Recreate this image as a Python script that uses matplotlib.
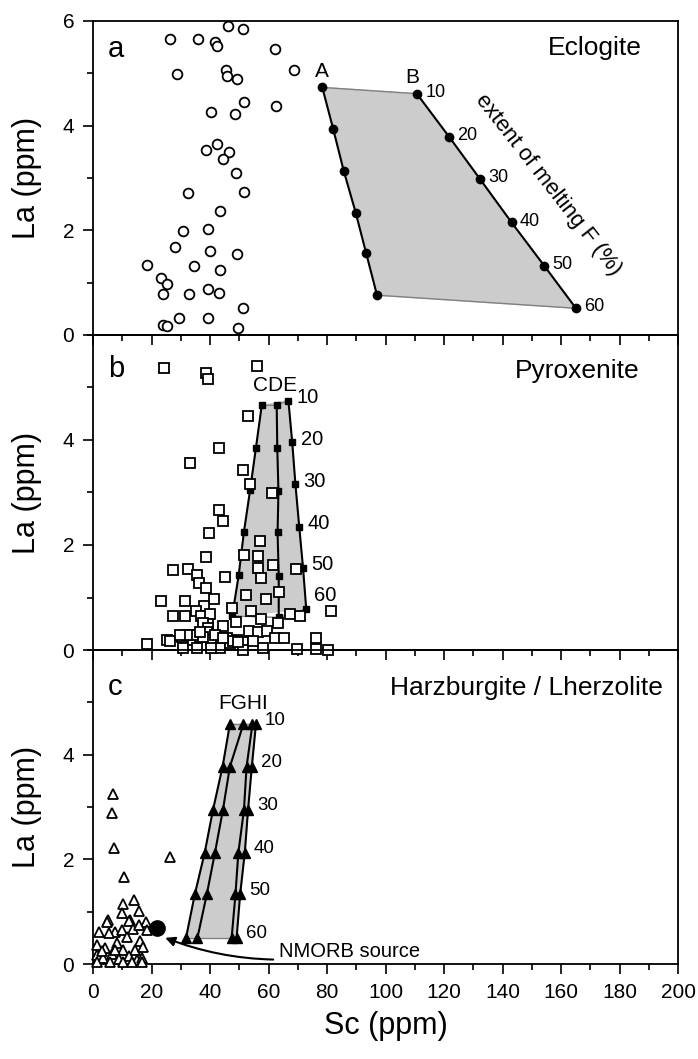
import matplotlib
matplotlib.use("Agg")
import matplotlib.pyplot as plt
from matplotlib.ticker import MultipleLocator

plt.rcParams['font.family'] = ['Liberation Sans', 'DejaVu Sans']

# ---- panel a: eclogite ----
ecl_sc = [46.0, 51.4, 26.4, 36.0, 41.7, 42.5, 62.2, 28.8, 45.5, 45.7, 49.3, 68.6,
          51.7, 40.2, 48.4, 62.6, 42.4, 38.6, 46.4, 44.3, 49.0, 32.4, 51.7, 43.3,
          30.7, 39.3, 28.1, 39.9, 49.3, 18.5, 34.6, 43.5, 23.4, 25.2, 24.0, 32.7,
          39.3, 43.2, 51.4, 29.4, 39.3, 24.0, 25.2, 49.7]
ecl_la = [5.91, 5.84, 5.66, 5.66, 5.60, 5.53, 5.47, 4.99, 5.06, 4.95, 4.89, 5.06,
          4.45, 4.26, 4.23, 4.38, 3.65, 3.54, 3.50, 3.37, 3.09, 2.72, 2.73, 2.36,
          1.99, 2.03, 1.68, 1.61, 1.55, 1.34, 1.31, 1.24, 1.09, 0.97, 0.78, 0.79,
          0.88, 0.81, 0.51, 0.32, 0.32, 0.19, 0.18, 0.14]
melt_A_sc = [78.4, 82.1, 85.7, 89.8, 93.4, 97.1]
melt_A_la = [4.73, 3.94, 3.14, 2.34, 1.56, 0.76]
melt_B_sc = [110.7, 121.7, 132.3, 143.1, 154.3, 165.1]
melt_B_la = [4.61, 3.79, 2.98, 2.15, 1.32, 0.51]
melt_F = ['10', '20', '30', '40', '50', '60']

# ---- panel b: pyroxenite ----
pyx_sc = [24.4, 38.5, 39.4, 56.2, 52.9, 43.0, 33.3, 51.4, 53.7, 61.3, 43.1, 44.3,
          39.7, 57.1, 38.5, 51.7, 56.3, 27.2, 32.4, 56.5, 61.6, 69.3, 57.4, 45.2,
          35.5, 36.3, 38.5, 41.5, 52.2, 59.0, 63.7, 23.4, 31.5, 37.9, 47.4, 54.0,
          81.3, 27.2, 31.6, 35.2, 37.0, 40.0, 48.8, 67.4, 70.8, 63.2, 57.3, 44.6,
          39.4, 37.5, 39.3, 53.2, 56.4, 59.4, 62.3, 65.3, 76.2, 18.3, 25.4, 26.3,
          30.3, 30.9, 34.3, 36.6, 38.9, 40.2, 41.7, 43.4, 45.7, 46.8, 49.1, 51.4,
          51.4, 58.2, 69.6, 76.2, 80.2, 35.4, 40.3, 48.0, 34.3, 32.0, 29.7, 37.7,
          49.7, 54.8, 36.6, 44.6]
pyx_la = [5.37, 5.27, 5.17, 5.41, 4.46, 3.85, 3.57, 3.42, 3.16, 2.99, 2.66, 2.46,
          2.22, 2.07, 1.77, 1.81, 1.79, 1.53, 1.55, 1.56, 1.61, 1.55, 1.38, 1.40,
          1.42, 1.27, 1.18, 0.98, 1.04, 0.98, 1.11, 0.94, 0.94, 0.84, 0.80, 0.75,
          0.74, 0.65, 0.65, 0.75, 0.64, 0.69, 0.53, 0.69, 0.65, 0.51, 0.60, 0.46,
          0.50, 0.51, 0.41, 0.37, 0.35, 0.37, 0.23, 0.23, 0.23, 0.11, 0.19, 0.18,
          0.25, 0.04, 0.19, 0.24, 0.34, 0.19, 0.29, 0.03, 0.22, 0.13, 0.19, 0.16,
          0.00, 0.03, 0.01, 0.01, 0.00, 0.03, 0.03, 0.18, 0.29, 0.29, 0.29, 0.25,
          0.16, 0.18, 0.35, 0.22]
melt_C_sc = [57.7, 55.7, 53.7, 51.6, 49.8, 47.6]
melt_C_la = [4.66, 3.85, 3.04, 2.25, 1.42, 0.65]
melt_D_sc = [62.8, 63.0, 63.4, 63.1, 63.5, 63.5]
melt_D_la = [4.66, 3.85, 3.02, 2.24, 1.41, 0.62]
melt_E_sc = [66.8, 68.1, 69.2, 70.5, 71.8, 72.9]
melt_E_la = [4.75, 3.96, 3.16, 2.35, 1.57, 0.78]

# ---- panel c: harzburgite / lherzolite ----
per_sc = [6.9, 6.6, 7.3, 26.3, 10.6, 14.1, 10.1, 9.8, 15.7, 5.0, 12.6, 18.1,
          4.7, 12.4, 2.2, 7.5, 9.8, 13.6, 15.8, 5.6, 11.5, 16.1, 1.3, 4.1, 8.1,
          10.4, 14.4, 17.2, 1.3, 3.5, 6.4, 9.0, 12.4, 14.9, 16.6, 1.3, 5.8, 10.4,
          13.2, 16.9, 3.0, 7.5, 18.3]
per_la = [3.24, 2.88, 2.21, 2.05, 1.67, 1.23, 1.15, 0.98, 1.02, 0.84, 0.85, 0.81,
          0.81, 0.83, 0.62, 0.62, 0.65, 0.66, 0.74, 0.59, 0.52, 0.44, 0.36, 0.30,
          0.40, 0.27, 0.27, 0.33, 0.17, 0.11, 0.19, 0.09, 0.15, 0.08, 0.11, 0.04,
          0.04, 0.03, 0.04, 0.04, 0.24, 0.27, 0.65]
melt_c_la = [4.58, 3.77, 2.94, 2.13, 1.33, 0.50]
melt_F_sc = [46.8, 44.3, 41.0, 38.2, 34.8, 31.8]
melt_G_sc = [51.4, 46.8, 44.4, 41.7, 38.9, 35.7]
melt_H_sc = [54.5, 52.5, 51.6, 49.7, 48.7, 47.4]
melt_I_sc = [55.7, 54.3, 53.0, 51.9, 50.3, 49.1]
nmorb_sc, nmorb_la = 21.8, 0.68

fig = plt.figure(figsize=(6.98, 10.59), dpi=100)
left, width = 93 / 698, 585 / 698
ax_a = fig.add_axes([left, 0.6837, width, 0.2965])
ax_b = fig.add_axes([left, 0.3862, width, 0.2975], sharex=ax_a)
ax_c = fig.add_axes([left, 0.0897, width, 0.2965], sharex=ax_a)

fill_col = '#cccccc'
edge_col = '#808080'
mk_open = dict(linestyle='none', mfc='white', mec='black', mew=1.3, clip_on=False, zorder=4)

for ax in (ax_a, ax_b, ax_c):
    ax.patch.set_visible(False)
    ax.set_xlim(0, 200)
    ax.set_ylim(0, 6)
    ax.xaxis.set_major_locator(MultipleLocator(20))
    ax.xaxis.set_minor_locator(MultipleLocator(10))
    ax.yaxis.set_minor_locator(MultipleLocator(1))
    ax.tick_params(which='both', direction='out', width=1.2, labelsize=15)
    ax.tick_params(which='major', length=7.5, pad=6)
    ax.tick_params(which='minor', length=4.5)
    for sp in ax.spines.values():
        sp.set_linewidth(1.3)
    ax.set_ylabel('La (ppm)', fontsize=22)
    ax.yaxis.set_label_coords(-0.088, 0.5)

ax_a.set_yticks([0, 2, 4, 6])
ax_b.set_yticks([0, 2, 4])
ax_c.set_yticks([0, 2, 4])
ax_a.tick_params(axis='x', labelbottom=False)
ax_b.tick_params(axis='x', labelbottom=False)

# panel a
ax_a.fill(melt_A_sc + melt_B_sc[::-1], melt_A_la + melt_B_la[::-1], color=fill_col, zorder=1)
ax_a.plot([melt_A_sc[0], melt_B_sc[0]], [melt_A_la[0], melt_B_la[0]], color=edge_col, lw=1, zorder=2)
ax_a.plot([melt_A_sc[-1], melt_B_sc[-1]], [melt_A_la[-1], melt_B_la[-1]], color=edge_col, lw=1, zorder=2)
for xs, ys in ((melt_A_sc, melt_A_la), (melt_B_sc, melt_B_la)):
    ax_a.plot(xs, ys, '-o', color='black', lw=1.5, ms=6, zorder=3)
ax_a.plot(ecl_sc, ecl_la, 'o', ms=7, **mk_open)
ax_a.text(melt_A_sc[0], melt_A_la[0] + 0.12, 'A', fontsize=15, ha='center', va='bottom')
ax_a.text(melt_B_sc[0] - 1.5, melt_B_la[0] + 0.12, 'B', fontsize=15, ha='center', va='bottom')
for x, y, lbl in zip(melt_B_sc, melt_B_la, melt_F):
    ax_a.annotate(lbl, (x, y), xytext=(6, 1), textcoords='offset points',
                  fontsize=13, ha='left', va='center')
ax_a.text(155.5, 2.87, 'extent of melting F (%)', fontsize=16, rotation=-52,
          ha='center', va='center', rotation_mode='anchor')
ax_a.text(0.025, 0.885, 'a', transform=ax_a.transAxes, fontsize=21, va='baseline')
ax_a.text(0.938, 0.892, 'Eclogite', transform=ax_a.transAxes, fontsize=19,
          ha='right', va='baseline')

# panel b
ax_b.fill(melt_C_sc + melt_E_sc[::-1], melt_C_la + melt_E_la[::-1], color=fill_col, zorder=1)
ax_b.plot([melt_C_sc[0], melt_D_sc[0], melt_E_sc[0]], [melt_C_la[0], melt_D_la[0], melt_E_la[0]],
          color=edge_col, lw=1, zorder=2)
ax_b.plot([melt_C_sc[-1], melt_D_sc[-1], melt_E_sc[-1]], [melt_C_la[-1], melt_D_la[-1], melt_E_la[-1]],
          color=edge_col, lw=1, zorder=2)
for xs, ys in ((melt_C_sc, melt_C_la), (melt_D_sc, melt_D_la), (melt_E_sc, melt_E_la)):
    ax_b.plot(xs, ys, '-s', color='black', lw=1.5, ms=4.5, zorder=3)
ax_b.plot(pyx_sc, pyx_la, 's', ms=7, **mk_open)
for i, (x, y, lbl) in enumerate(zip(melt_E_sc, melt_E_la, melt_F)):
    dy = 10 if i == 5 else 2
    ax_b.annotate(lbl, (x, y), xytext=(14, dy), textcoords='offset points',
                  fontsize=14.5, ha='center', va='center')
ax_b.text(melt_D_sc[0] - 0.5, melt_D_la[0] + 0.2, 'CDE', fontsize=15, ha='center', va='bottom')
ax_b.text(0.025, 0.867, 'b', transform=ax_b.transAxes, fontsize=21, va='baseline')
ax_b.text(0.935, 0.863, 'Pyroxenite', transform=ax_b.transAxes, fontsize=19,
          ha='right', va='baseline')

# panel c
ax_c.fill(melt_F_sc + melt_I_sc[::-1], melt_c_la + melt_c_la[::-1], color=fill_col, zorder=1)
ax_c.plot([melt_F_sc[0], melt_I_sc[0]], [melt_c_la[0], melt_c_la[0]], color=edge_col, lw=1, zorder=2)
ax_c.plot([melt_F_sc[-1], melt_I_sc[-1]], [melt_c_la[-1], melt_c_la[-1]], color=edge_col, lw=1, zorder=2)
for xs in (melt_F_sc, melt_G_sc, melt_H_sc, melt_I_sc):
    ax_c.plot(xs, melt_c_la, '-^', color='black', lw=1.5, ms=7.5, zorder=3)
ax_c.plot(per_sc, per_la, '^', ms=7.5, **mk_open)
ax_c.plot(nmorb_sc, nmorb_la, 'o', color='black', ms=11, zorder=5)
for x, y, lbl in zip(melt_I_sc, melt_c_la, melt_F):
    ax_c.annotate(lbl, (x, y), xytext=(14, 3), textcoords='offset points',
                  fontsize=13.5, ha='center', va='center')
ax_c.text((melt_F_sc[0] + melt_I_sc[0]) / 2, melt_c_la[0] + 0.22, 'FGHI', fontsize=15,
          ha='center', va='bottom')
ax_c.annotate('NMORB source', xy=(24.7, 0.50), xytext=(63.5, 0.23), fontsize=14.5,
              ha='left', va='center',
              arrowprops=dict(arrowstyle='-|>', color='black', lw=1.5, mutation_scale=14,
                              shrinkA=2, shrinkB=0, connectionstyle='arc3,rad=-0.15'))
ax_c.text(0.025, 0.857, 'c', transform=ax_c.transAxes, fontsize=21, va='baseline')
ax_c.text(0.974, 0.857, 'Harzburgite / Lherzolite', transform=ax_c.transAxes, fontsize=19,
          ha='right', va='baseline')
ax_c.set_xlabel('Sc (ppm)', fontsize=22)
ax_c.xaxis.set_label_coords(0.5, -0.15)

fig.savefig('out.png', dpi=100, facecolor='white')
